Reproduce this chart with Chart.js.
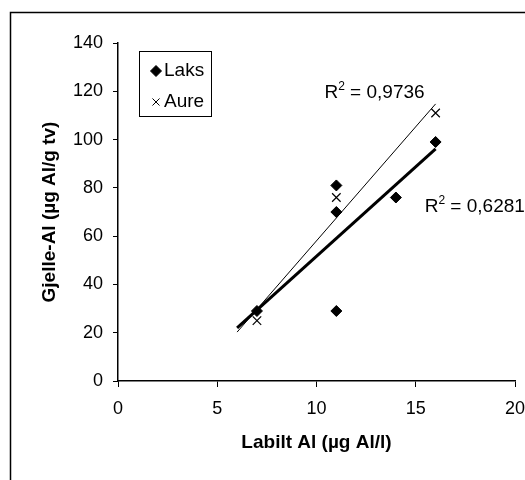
<!DOCTYPE html>
<html>
<head>
<meta charset="utf-8">
<script src="https://cdn.jsdelivr.net/npm/chart.js@4.4.1/dist/chart.umd.min.js"></script>
<style>
  html, body { margin: 0; padding: 0; background: #fff; }
  #wrap { width: 525px; height: 480px; }
</style>
</head>
<body>
<div id="wrap"><canvas id="chart" width="525" height="480"></canvas></div>
<script>
// data
const seriesNames = ['Laks', 'Aure'];
const laksX = [7, 11, 11, 11, 14, 16];
const laksY = [29, 29, 81, 70, 76, 99];
const aureX = [7, 11, 16];
const aureY = [25, 76, 111];
const r2Texts = ['0,6281', '0,9736'];
const xTicks = [0, 5, 10, 15, 20];
const yTicks = [0, 20, 40, 60, 80, 100, 120, 140];
const xTitle = 'Labilt Al (µg Al/l)';
const yTitle = 'Gjelle-Al (µg Al/g tv)';
const trendBackward = 1; // excel trendline forecast backwards

const FONT = "'Liberation Sans', Arial, sans-serif";

function toPoints(xs, ys) {
    return xs.map((x, i) => ({ x: x, y: ys[i] }));
}

// least squares line, drawn from min-backward to max
function trend(xs, ys) {
    const n = xs.length;
    const mx = xs.reduce((a, b) => a + b, 0) / n;
    const my = ys.reduce((a, b) => a + b, 0) / n;
    let sxy = 0, sxx = 0;
    for (let i = 0; i < n; i++) {
        sxy += (xs[i] - mx) * (ys[i] - my);
        sxx += (xs[i] - mx) * (xs[i] - mx);
    }
    const k = sxy / sxx;
    const m = my - k * mx;
    const x0 = Math.min(...xs) - trendBackward;
    const x1 = Math.max(...xs);
    return [{ x: x0, y: k * x0 + m }, { x: x1, y: k * x1 + m }];
}

function drawR2(ctx, x, y, value) {
    ctx.textBaseline = 'middle';
    ctx.textAlign = 'left';
    ctx.font = '19px ' + FONT;
    ctx.fillText('R', x, y);
    let w = ctx.measureText('R').width;
    ctx.font = '12px ' + FONT;
    ctx.fillText('2', x + w, y - 6);
    w += ctx.measureText('2').width;
    ctx.font = '19px ' + FONT;
    ctx.fillText(' = ' + value, x + w, y);
}

const extras = {
    id: 'extras',
    beforeDraw(chart) {
        const ctx = chart.ctx;
        ctx.save();
        ctx.fillStyle = '#fff';
        ctx.fillRect(0, 0, chart.width, chart.height);
        ctx.restore();
    },
    afterDraw(chart) {
        const ctx = chart.ctx;
        const a = chart.chartArea;
        const xs = chart.scales.x, ys = chart.scales.y;
        ctx.save();
        ctx.strokeStyle = '#000';
        ctx.fillStyle = '#000';

        // outer frame (runs off the right and bottom edge)
        ctx.lineWidth = 1.5;
        ctx.strokeRect(10.5, 12.5, 700, 700);

        // legend box
        const lx = a.left + 21, ly = a.top + 8;
        ctx.lineWidth = 1;
        ctx.strokeRect(lx + 0.5, ly + 0.5, 72, 65);
        const styles = [
            { pointStyle: 'rectRot', radius: 5.5, borderWidth: 1, rotation: 0 },
            { pointStyle: 'crossRot', radius: 5, borderWidth: 1, rotation: 0 }
        ];
        seriesNames.forEach((name, i) => {
            const cy = ly + 20 + i * 31;
            Chart.helpers.drawPoint(ctx, styles[i], lx + 17, cy);
            ctx.font = '19px ' + FONT;
            ctx.textBaseline = 'middle';
            ctx.textAlign = 'left';
            ctx.fillText(name, lx + 25, cy);
        });

        // R² labels
        drawR2(ctx, xs.getPixelForValue(15.45), ys.getPixelForValue(72), r2Texts[0]);
        drawR2(ctx, xs.getPixelForValue(10.4), ys.getPixelForValue(119.5), r2Texts[1]);
        ctx.restore();
    }
};

const axisCommon = {
    type: 'linear',
    grid: { drawOnChartArea: false, drawTicks: true, tickLength: 6, color: '#000', lineWidth: 1 },
    border: { display: true, color: '#000', width: 1.5 },
};

new Chart(document.getElementById('chart').getContext('2d'), {
    type: 'scatter',
    data: {
        datasets: [
            {
                label: seriesNames[0],
                data: toPoints(laksX, laksY),
                pointStyle: 'rectRot',
                pointRadius: 5.5,
                backgroundColor: '#000',
                borderColor: '#000',
                borderWidth: 1
            },
            {
                label: seriesNames[1],
                data: toPoints(aureX, aureY),
                pointStyle: 'crossRot',
                pointRadius: 6,
                borderColor: '#000',
                borderWidth: 1.2
            },
            {
                label: 'Laks trend',
                data: trend(laksX, laksY),
                showLine: true,
                pointRadius: 0,
                borderColor: '#000',
                borderWidth: 3
            },
            {
                label: 'Aure trend',
                data: trend(aureX, aureY),
                showLine: true,
                pointRadius: 0,
                borderColor: '#000',
                borderWidth: 1
            }
        ]
    },
    options: {
        responsive: false,
        animation: false,
        layout: { padding: { top: 43, right: 10, left: 0, bottom: 0 } },
        plugins: {
            legend: { display: false },
            tooltip: { enabled: false }
        },
        scales: {
            x: Object.assign({}, axisCommon, {
                min: xTicks[0],
                max: xTicks[xTicks.length - 1],
                afterBuildTicks: s => { s.ticks = xTicks.map(v => ({ value: v })); },
                ticks: { color: '#000', font: { family: FONT, size: 18 }, padding: 11 },
                title: { display: true, text: xTitle, color: '#000', font: { family: FONT, size: 19, weight: 'bold' }, padding: { bottom: 26 } },
                afterFit: s => { s.height = 99; s.paddingLeft = 0; s.paddingRight = 0; }
            }),
            y: Object.assign({}, axisCommon, {
                min: yTicks[0],
                max: yTicks[yTicks.length - 1],
                grid: Object.assign({}, axisCommon.grid, { tickLength: 5 }),
                afterBuildTicks: s => { s.ticks = yTicks.map(v => ({ value: v })); },
                ticks: { color: '#000', font: { family: FONT, size: 18 }, padding: 10 },
                title: { display: true, text: yTitle, color: '#000', font: { family: FONT, size: 19, weight: 'bold' }, padding: { top: 38 } },
                afterFit: s => { s.width = 118; s.paddingTop = 0; s.paddingBottom = 0; }
            })
        }
    },
    plugins: [extras]
});
</script>
</body>
</html>
